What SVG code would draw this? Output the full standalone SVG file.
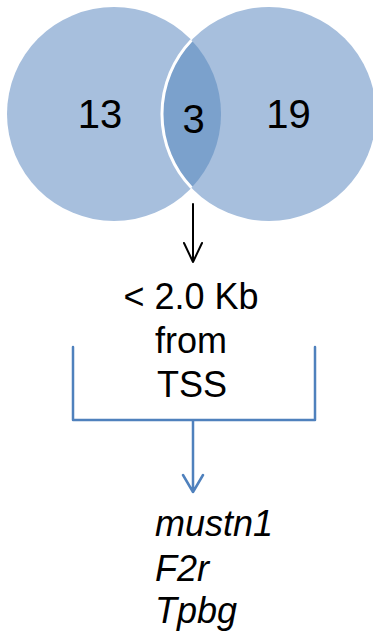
<svg xmlns="http://www.w3.org/2000/svg" width="373" height="634" viewBox="0 0 373 634">
<style>
.t{font-family:"Liberation Sans",Arial,sans-serif;fill:#000}
.n{font-size:40px;text-anchor:middle}
.b{font-size:36px;text-anchor:middle}
.i{font-size:36px;font-style:italic}
.set{fill:#A7BFDD}
</style>
<rect width="373" height="634" fill="#fff"/>
<g id="setA">
<circle class="set" cx="114" cy="114" r="107"/>
</g>
<g id="setB">
<circle class="set" cx="269" cy="114" r="107"/>
</g>
<g id="overlap">
<path d="M191.5,40.2 A107,107 0 0,1 191.5,187.8 A107,107 0 0,1 191.5,40.2 Z" fill="#7BA1CC"/>
<path d="M191.5,40.2 A107,107 0 0,0 191.5,187.8" fill="none" stroke="#fff" stroke-width="3"/>
</g>
<g id="labels">
<text class="t n" x="100" y="128">13</text>
<text class="t n" x="193.5" y="133">3</text>
<text class="t n" x="288.5" y="128">19</text>
</g>
<g id="connectors" fill="none" stroke-linecap="round" stroke-linejoin="round">
<path d="M193,204 V262 M184,243 L193,262 L202,243" stroke="#000" stroke-width="2"/>
<path d="M73,347 V420 H315 V347 M193,420 V492 M183,475 L193,492 L203,475" stroke="#4F81BD" stroke-width="2.5"/>
</g>
<g id="filter">
<text class="t b" x="191" y="309">&lt; 2.0 Kb</text>
<text class="t b" x="191" y="353">from</text>
<text class="t b" x="192" y="397">TSS</text>
</g>
<g id="genes">
<text class="t i" x="155" y="536">mustn1</text>
<text class="t i" x="155" y="581">F2r</text>
<text class="t i" x="155" y="623">Tpbg</text>
</g>
</svg>
